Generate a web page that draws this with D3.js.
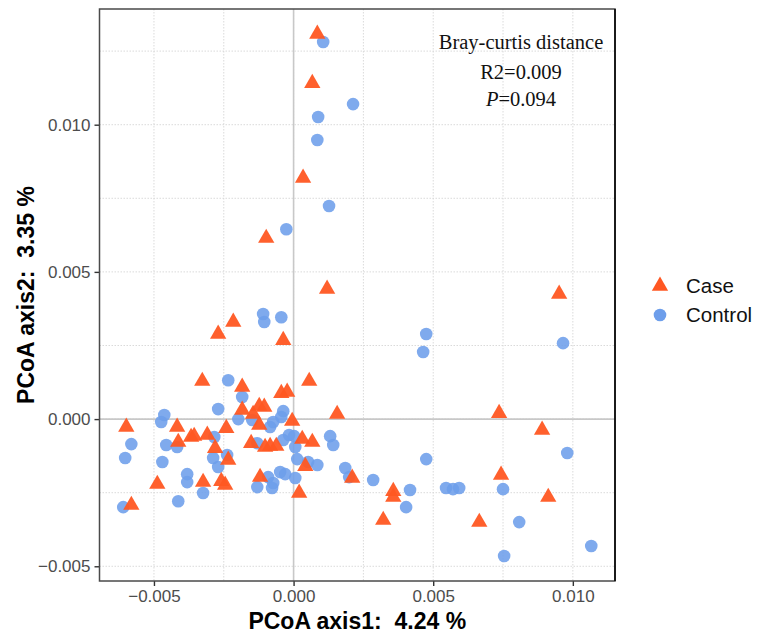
<!DOCTYPE html>
<html>
<head>
<meta charset="utf-8">
<script src="https://cdn.jsdelivr.net/npm/d3@7"></script>
<style>
  body { margin: 0; background: #fff; }
  svg { display: block; font-family: "Liberation Sans", Arial, sans-serif; }
</style>
</head>
<body>
<svg id="chart" width="765" height="644"></svg>
<script>
// PCoA coordinates (axis1, axis2)
const caseX = [0.00085, 0.00067, 0.00034, -0.00098, 0.00120, -0.00216, -0.00270, -0.00037, -0.00327, 0.00056,
  -0.00184, -0.00044, -0.00023, -0.00184, -0.00145, -0.00123, -0.00105, 0.00156, -0.00599, -0.00417,
  -0.00241, -0.00123, -0.00005, -0.00413, -0.00367, -0.00356, -0.00309, -0.00281, -0.00234, -0.00152,
  -0.00102, -0.00084, -0.00062, 0.00031, 0.00067, 0.00042, -0.00488, -0.00324, -0.00259, -0.00245,
  -0.00120, 0.00210, -0.00581, 0.00020, 0.00357, 0.00357, 0.00321, 0.00665, 0.00736, 0.00890,
  0.00743, 0.00912, 0.00951];
const caseY = [0.01308, 0.01141, 0.00819, 0.00615, 0.00442, 0.00330, 0.00289, 0.00268, 0.00129, 0.00129,
  0.00109, 0.00088, 0.00092, 0.00031, 0.00017, 0.00044, 0.00041, 0.00017, -0.00027, -0.00027,
  -0.00031, -0.00020, -0.00007, -0.00078, -0.00061, -0.00058, -0.00054, -0.00099, -0.00139, -0.00082,
  -0.00095, -0.00092, -0.00092, -0.00068, -0.00078, -0.00160, -0.00221, -0.00214, -0.00211, -0.00224,
  -0.00197, -0.00200, -0.00292, -0.00251, -0.00245, -0.00265, -0.00343, -0.00350, 0.00020, -0.00037,
  -0.00190, -0.00265, 0.00425];

const controlX = [0.00106, 0.00213, 0.00088, 0.00085, 0.00127, -0.00026, -0.00109, -0.00105, -0.00044, -0.00234,
  -0.00184, -0.00270, -0.00037, -0.00044, -0.00463, -0.00474, -0.00198, -0.00148, -0.00084, -0.00073,
  -0.00581, -0.00456, -0.00417, -0.00284, -0.00130, -0.00037, -0.00016, 0.00002, 0.00006, 0.00131,
  0.00142, -0.00603, -0.00470, -0.00288, -0.00270, -0.00238, 0.00013, 0.00052, 0.00085, -0.00381,
  -0.00381, -0.00091, -0.00130, -0.00073, -0.00077, -0.00048, -0.00030, 0.00006, 0.00185, 0.00199,
  0.00285, -0.00324, -0.00413, -0.00610, 0.00475, 0.00464, 0.00965, 0.00980, 0.00475, 0.00546,
  0.00571, 0.00593, 0.00750, 0.00417, 0.00403, 0.00808, 0.01066, 0.00754];
const controlY = [0.01281, 0.01070, 0.01026, 0.00948, 0.00724, 0.00645, 0.00357, 0.00330, 0.00346, 0.00132,
  0.00075, 0.00034, 0.00027, 0.00007, 0.00014, -0.00010, 0.00000, -0.00003, -0.00027, -0.00010,
  -0.00085, -0.00088, -0.00095, -0.00061, -0.00082, -0.00071, -0.00054, -0.00058, -0.00095, -0.00058,
  -0.00088, -0.00132, -0.00146, -0.00132, -0.00163, -0.00122, -0.00136, -0.00146, -0.00156, -0.00187,
  -0.00214, -0.00197, -0.00231, -0.00217, -0.00234, -0.00180, -0.00187, -0.00200, -0.00166, -0.00197,
  -0.00207, -0.00251, -0.00279, -0.00299, 0.00289, 0.00228, 0.00258, -0.00115, -0.00136, -0.00234,
  -0.00238, -0.00234, -0.00238, -0.00241, -0.00299, -0.00350, -0.00431, -0.00465];

const xTicks = [-0.005, 0.000, 0.005, 0.010];
const yTicks = [-0.005, 0.000, 0.005, 0.010];
const xMinor = [-0.0025, 0.0025, 0.0075];
const yMinor = [-0.0025, 0.0025, 0.0075, 0.0125];
const groups = ["Case", "Control"];
const statLines = ["Bray-curtis distance", "R2=0.009", "=0.094"];

const caseColor = "#ff5722";
const controlColor = "#6d9eeb";

const margin = {top: 9, left: 99.5, right: 150, bottom: 63};
const width = 765 - margin.left - margin.right;
const height = 644 - margin.top - margin.bottom;

const svg = d3.select("#chart");
const g = svg.append("g").attr("transform", `translate(${margin.left},${margin.top})`);

const x = d3.scaleLinear().domain([-0.00695, 0.01151]).range([0, width]);
const y = d3.scaleLinear().domain([-0.0055, 0.01393]).range([height, 0]);

// grid (dotted, like the figure)
g.selectAll(".vgrid").data(xTicks.concat(xMinor)).join("line")
  .attr("x1", d => x(d)).attr("x2", d => x(d)).attr("y1", 0).attr("y2", height)
  .attr("stroke", "#d6d6d6").attr("stroke-width", 0.9).attr("stroke-dasharray", "1.5,1.5");
g.selectAll(".hgrid").data(yTicks.concat(yMinor)).join("line")
  .attr("y1", d => y(d)).attr("y2", d => y(d)).attr("x1", 0).attr("x2", width)
  .attr("stroke", "#d6d6d6").attr("stroke-width", 0.9).attr("stroke-dasharray", "1.5,1.5");

// zero reference lines
g.append("line").attr("x1", x(0)).attr("x2", x(0)).attr("y1", 0).attr("y2", height)
  .attr("stroke", "#c8c8c8").attr("stroke-width", 1.6);
g.append("line").attr("y1", y(0)).attr("y2", y(0)).attr("x1", 0).attr("x2", width)
  .attr("stroke", "#c8c8c8").attr("stroke-width", 1.6);

// points
const controlPts = controlX.map((v, i) => [v, controlY[i]]);
const casePts = caseX.map((v, i) => [v, caseY[i]]);

g.selectAll(".ctrl").data(controlPts).join("circle")
  .attr("cx", d => x(d[0])).attr("cy", d => y(d[1])).attr("r", 6.3)
  .attr("fill", controlColor).attr("fill-opacity", 0.88);

const tri = d3.symbol().type(d3.symbolTriangle).size(115);
g.selectAll(".case").data(casePts).join("path")
  .attr("d", tri)
  .attr("transform", d => `translate(${x(d[0])},${y(d[1])})`)
  .attr("fill", caseColor).attr("fill-opacity", 0.95);

// axes
const xAxis = g.append("g").attr("transform", `translate(0,${height})`)
  .call(d3.axisBottom(x).tickValues(xTicks).tickFormat(d3.format(".3f")).tickSize(5).tickPadding(4));
const yAxis = g.append("g")
  .call(d3.axisLeft(y).tickValues(yTicks).tickFormat(d3.format(".3f")).tickSize(5).tickPadding(4));
[xAxis, yAxis].forEach(a => {
  a.select(".domain").remove();
  a.selectAll(".tick line").attr("stroke", "#333").attr("stroke-width", 1.4);
  a.selectAll(".tick text").attr("fill", "#4d4d4d").style("font-size", "17px")
    .style("font-family", "'Liberation Sans', Arial, sans-serif");
});

// panel border
g.append("rect").attr("width", width).attr("height", height)
  .attr("fill", "none").attr("stroke", "#4a4a4a").attr("stroke-width", 1.5);
g.append("line").attr("x1", width).attr("x2", width).attr("y1", 0).attr("y2", height)
  .attr("stroke", "#111").attr("stroke-width", 1.8);

// axis titles
svg.append("text")
  .attr("x", margin.left + width / 2).attr("y", 629)
  .attr("text-anchor", "middle").style("white-space", "pre")
  .style("font-size", "23px").style("font-weight", "bold").attr("fill", "#000")
  .text("PCoA axis1:  4.24 %");
svg.append("text")
  .attr("transform", `translate(34,${margin.top + height / 2}) rotate(-90)`)
  .attr("text-anchor", "middle").style("white-space", "pre")
  .style("font-size", "23px").style("font-weight", "bold").attr("fill", "#000")
  .text("PCoA axis2:  3.35 %");

// stats annotation
const ann = svg.append("g").style("font-family", "'Liberation Serif', 'Times New Roman', serif")
  .style("font-size", "20.5px").attr("fill", "#111");
ann.append("text").attr("x", 521).attr("y", 49).attr("text-anchor", "middle").text(statLines[0]);
ann.append("text").attr("x", 521).attr("y", 79).attr("text-anchor", "middle").text(statLines[1]);
const pLine = ann.append("text").attr("x", 521).attr("y", 106).attr("text-anchor", "middle");
pLine.append("tspan").style("font-style", "italic").text("P");
pLine.append("tspan").text(statLines[2]);

// legend
const legend = svg.append("g").attr("transform", "translate(660,286)");
groups.forEach((name, i) => {
  const row = legend.append("g").attr("transform", `translate(0,${i * 29})`);
  if (i === 0) {
    row.append("path").attr("d", tri).attr("fill", caseColor);
  } else {
    row.append("circle").attr("r", 6.3).attr("fill", controlColor);
  }
  row.append("text").attr("x", 26).attr("y", 7)
    .style("font-size", "20.5px").attr("fill", "#111").text(name);
});
</script>
</body>
</html>
